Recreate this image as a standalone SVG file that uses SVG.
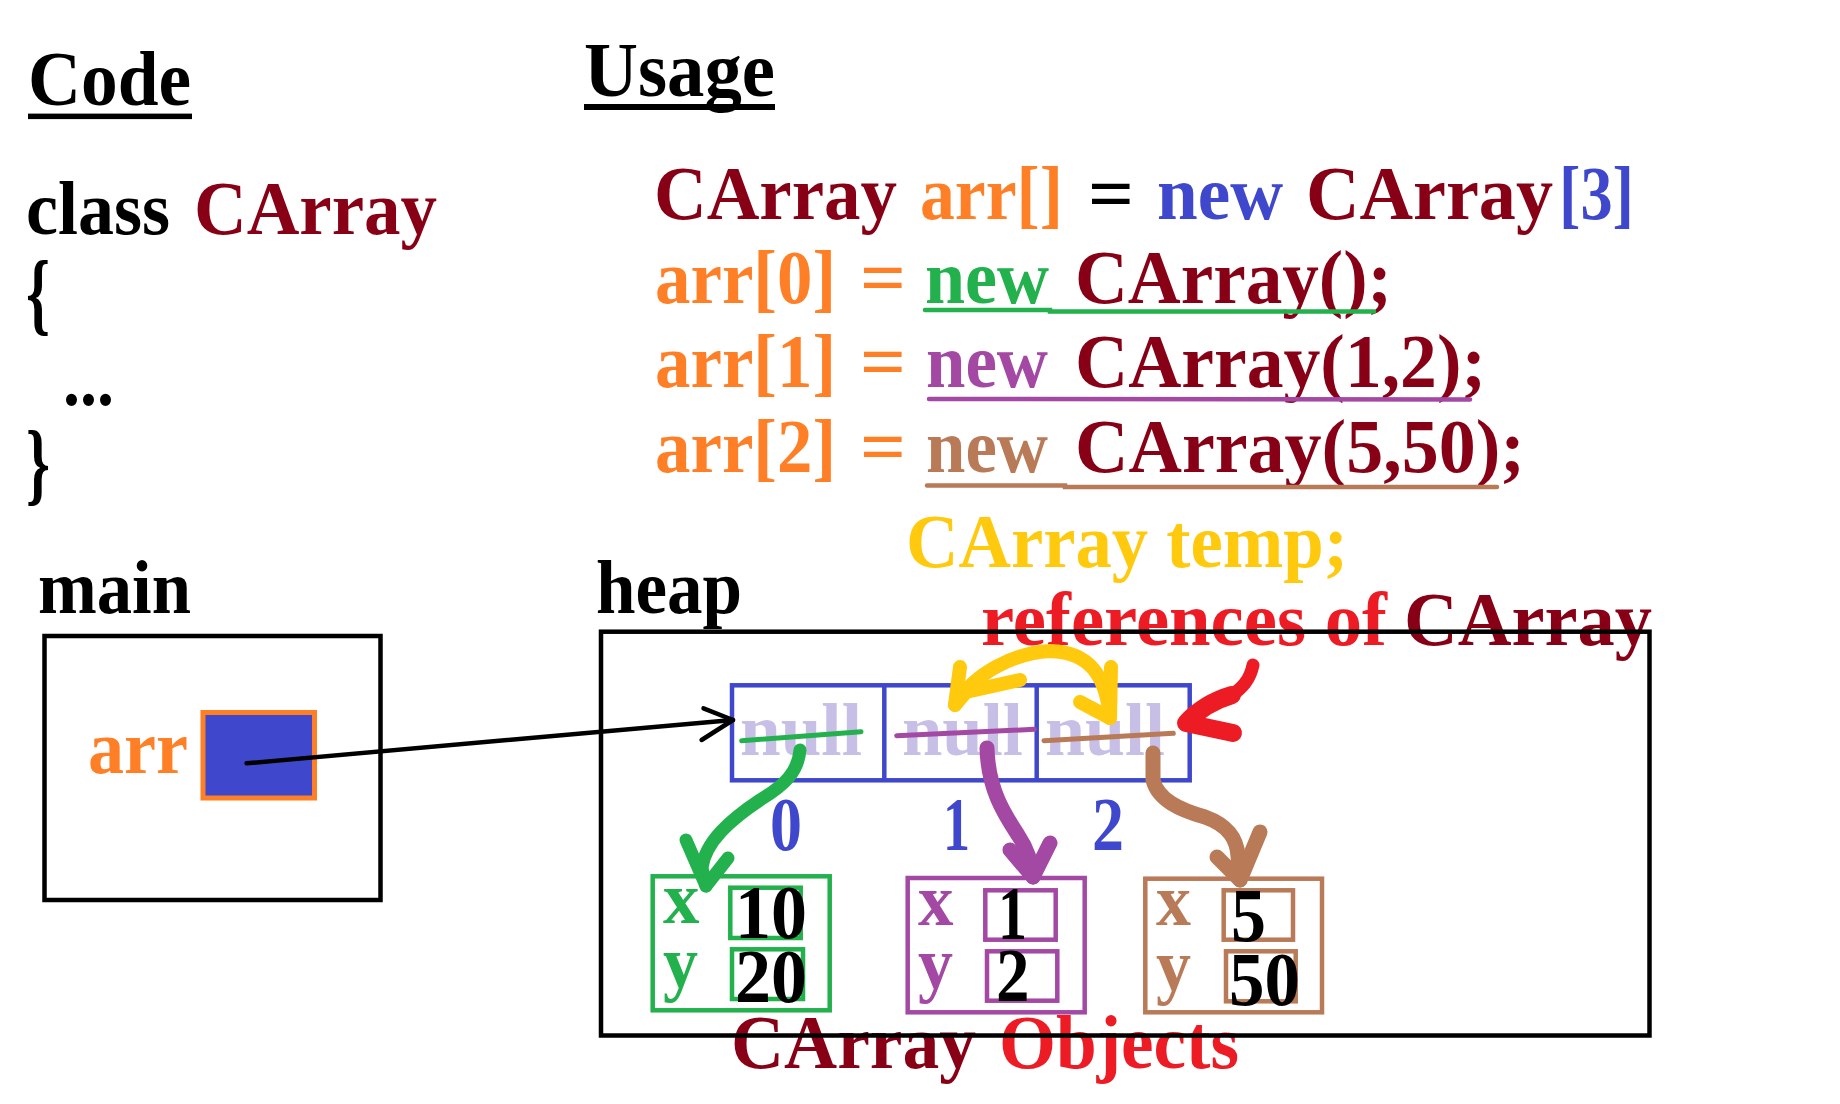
<svg xmlns="http://www.w3.org/2000/svg" width="1840" height="1104" viewBox="0 0 1840 1104">
<style>
  text { font-family: "Liberation Serif", "Times New Roman", serif; font-weight: bold; font-size: 76px; }
  .h { font-size: 78px; }
  .brace { font-size: 92px; }
  .k { fill: #000000; }
  .dr { fill: #880015; }
  .or { fill: #ff7f27; }
  .bl { fill: #3f48cc; }
  .gr { fill: #22b14c; }
  .pu { fill: #a349a4; }
  .br { fill: #b97a57; }
  .ye { fill: #ffc90e; }
  .rd { fill: #ed1c24; }
  .nl { fill: #c8bfe7; font-size: 73px; }
  .fld { font-size: 73px; }
  .box { fill: none; stroke-width: 4.5; }
  .hand { fill: none; stroke-linecap: round; stroke-linejoin: round; }
</style>
<rect width="1840" height="1104" fill="#ffffff"/>

<g id="code">
  <text class="h k" x="28" y="105" textLength="163" lengthAdjust="spacingAndGlyphs">Code</text>
  <rect x="28" y="113.6" width="164" height="5.5" fill="#000"/>
  <text class="k" x="26" y="234" textLength="144" lengthAdjust="spacingAndGlyphs">class</text>
  <text class="dr" x="194" y="234" textLength="243" lengthAdjust="spacingAndGlyphs">CArray</text>
  <text class="k brace" x="26" y="323" textLength="24" lengthAdjust="spacingAndGlyphs">{</text>
  <text class="k" x="63" y="405" textLength="51" lengthAdjust="spacingAndGlyphs">...</text>
  <text class="k brace" x="26" y="493" textLength="24" lengthAdjust="spacingAndGlyphs">}</text>
</g>

<g id="usage">
  <text class="h k" x="584" y="96.4" textLength="191" lengthAdjust="spacingAndGlyphs">Usage</text>
  <rect x="584" y="104" width="191" height="6" fill="#000"/>

  <text class="dr" x="654" y="219" textLength="243" lengthAdjust="spacingAndGlyphs">CArray</text>
  <text class="or" x="920" y="219" textLength="143" lengthAdjust="spacingAndGlyphs">arr[]</text>
  <text class="k" x="1088" y="219" textLength="46" lengthAdjust="spacingAndGlyphs">=</text>
  <text class="bl" x="1157" y="219" textLength="126" lengthAdjust="spacingAndGlyphs">new</text>
  <text class="dr" x="1306" y="219" textLength="247" lengthAdjust="spacingAndGlyphs">CArray</text>
  <text class="bl" x="1559" y="219" textLength="75" lengthAdjust="spacingAndGlyphs">[3]</text>

  <text class="or" x="655" y="303" textLength="181" lengthAdjust="spacingAndGlyphs">arr[0]</text>
  <text class="or" x="860" y="303" textLength="46" lengthAdjust="spacingAndGlyphs">=</text>
  <text class="gr" x="925" y="303" textLength="124" lengthAdjust="spacingAndGlyphs">new</text>
  <text class="dr" x="1075" y="303" textLength="317" lengthAdjust="spacingAndGlyphs">CArray();</text>
  <polyline points="925,310 1050,310 1050,311.5 1374,311.5" fill="none" stroke="#22b14c" stroke-width="4.5" stroke-linecap="round"/>

  <text class="or" x="655" y="387" textLength="181" lengthAdjust="spacingAndGlyphs">arr[1]</text>
  <text class="or" x="860" y="387" textLength="46" lengthAdjust="spacingAndGlyphs">=</text>
  <text class="pu" x="926" y="387" textLength="122" lengthAdjust="spacingAndGlyphs">new</text>
  <text class="dr" x="1075" y="387" textLength="411" lengthAdjust="spacingAndGlyphs">CArray(1,2);</text>
  <line x1="929" y1="399" x2="1470" y2="399.5" stroke="#a349a4" stroke-width="4.5" stroke-linecap="round"/>

  <text class="or" x="655" y="472" textLength="181" lengthAdjust="spacingAndGlyphs">arr[2]</text>
  <text class="or" x="860" y="472" textLength="46" lengthAdjust="spacingAndGlyphs">=</text>
  <text class="br" x="926" y="472" textLength="122" lengthAdjust="spacingAndGlyphs">new</text>
  <text class="dr" x="1075" y="472" textLength="450" lengthAdjust="spacingAndGlyphs">CArray(5,50);</text>
  <polyline points="927,485.5 1065,485.5 1065,487 1497,487" fill="none" stroke="#b97a57" stroke-width="4.5" stroke-linecap="round"/>
</g>

<g id="labels">
  <text class="ye" x="906" y="566.7" textLength="442" lengthAdjust="spacingAndGlyphs">CArray temp;</text>
  <text class="k" x="38" y="613" textLength="153" lengthAdjust="spacingAndGlyphs">main</text>
  <text class="k" x="596" y="613" textLength="146" lengthAdjust="spacingAndGlyphs">heap</text>
  <text class="rd" x="981" y="645" textLength="406" lengthAdjust="spacingAndGlyphs">references of</text>
  <text class="dr" x="1404" y="645" textLength="248" lengthAdjust="spacingAndGlyphs">CArray</text>
  <text class="dr" x="731" y="1068" textLength="245" lengthAdjust="spacingAndGlyphs">CArray</text>
  <text class="rd" x="999" y="1068" textLength="240" lengthAdjust="spacingAndGlyphs">Objects</text>
</g>

<g id="main">
  <rect class="box" x="44.5" y="636" width="336" height="264" stroke="#000"/>
  <text class="or" x="88" y="773" textLength="100" lengthAdjust="spacingAndGlyphs">arr</text>
  <rect x="203" y="712.5" width="111.5" height="85.5" fill="#3f48cc" stroke="#ff7f27" stroke-width="5"/>
</g>

<g id="heap">
  <rect class="box" x="601" y="631.7" width="1048.5" height="403.8" stroke="#000"/>
</g>

<g id="array">
  <text class="nl" x="740" y="755" textLength="122" lengthAdjust="spacingAndGlyphs">null</text>
  <text class="nl" x="902" y="755" textLength="121" lengthAdjust="spacingAndGlyphs">null</text>
  <text class="nl" x="1045" y="755" textLength="120" lengthAdjust="spacingAndGlyphs">null</text>
  <rect class="box" x="732" y="685.3" width="457.7" height="95" stroke="#3f48cc"/>
  <line x1="884.3" y1="685.3" x2="884.3" y2="780.3" stroke="#3f48cc" stroke-width="4.5"/>
  <line x1="1036.7" y1="685.3" x2="1036.7" y2="780.3" stroke="#3f48cc" stroke-width="4.5"/>
  <line x1="741.7" y1="740.7" x2="861" y2="731.7" stroke="#22b14c" stroke-width="5" stroke-linecap="round"/>
  <line x1="896.7" y1="735.7" x2="1034.3" y2="729.3" stroke="#a349a4" stroke-width="5" stroke-linecap="round"/>
  <line x1="1044" y1="740.7" x2="1173.3" y2="733.3" stroke="#b97a57" stroke-width="5" stroke-linecap="round"/>
  <text class="bl" x="770" y="850" textLength="32" lengthAdjust="spacingAndGlyphs">0</text>
  <text class="bl" x="943" y="850" textLength="27" lengthAdjust="spacingAndGlyphs">1</text>
  <text class="bl" x="1092" y="850" textLength="32" lengthAdjust="spacingAndGlyphs">2</text>
</g>

<g id="obj0">
  <rect class="box" x="652.7" y="876.3" width="177" height="134" stroke="#22b14c"/>
  <rect class="box" x="730.3" y="887.7" width="70.4" height="50.3" stroke="#22b14c"/>
  <rect class="box" x="732" y="949.3" width="71" height="49.7" stroke="#22b14c"/>
  <text class="gr fld" x="663" y="923.3" textLength="36.5" lengthAdjust="spacingAndGlyphs">x</text>
  <text class="gr fld" x="663" y="986.7" textLength="35" lengthAdjust="spacingAndGlyphs">y</text>
  <text class="k" x="735" y="938.3" textLength="72" lengthAdjust="spacingAndGlyphs">10</text>
  <text class="k" x="735" y="1001.7" textLength="72" lengthAdjust="spacingAndGlyphs">20</text>
</g>

<g id="obj1">
  <rect class="box" x="907.7" y="878" width="177" height="134.3" stroke="#a349a4"/>
  <rect class="box" x="985.3" y="890.3" width="70.4" height="49.4" stroke="#a349a4"/>
  <rect class="box" x="987" y="951.3" width="70.3" height="49.4" stroke="#a349a4"/>
  <text class="pu fld" x="918" y="925" textLength="35.5" lengthAdjust="spacingAndGlyphs">x</text>
  <text class="pu fld" x="918" y="988" textLength="35" lengthAdjust="spacingAndGlyphs">y</text>
  <text class="k" x="998" y="939" textLength="29" lengthAdjust="spacingAndGlyphs">1</text>
  <text class="k" x="996" y="1000.7" textLength="33.5" lengthAdjust="spacingAndGlyphs">2</text>
</g>

<g id="obj2">
  <rect class="box" x="1145.3" y="878.7" width="176.7" height="133.6" stroke="#b97a57"/>
  <rect class="box" x="1223.7" y="890.3" width="69.3" height="49.4" stroke="#b97a57"/>
  <rect class="box" x="1226" y="951.3" width="69.7" height="50" stroke="#b97a57"/>
  <text class="br fld" x="1156" y="925" textLength="35" lengthAdjust="spacingAndGlyphs">x</text>
  <text class="br fld" x="1156" y="990" textLength="35" lengthAdjust="spacingAndGlyphs">y</text>
  <text class="k" x="1231" y="941" textLength="35" lengthAdjust="spacingAndGlyphs">5</text>
  <text class="k" x="1229" y="1005" textLength="71" lengthAdjust="spacingAndGlyphs">50</text>
</g>

<g id="connectors">
  <line x1="246.6" y1="763.3" x2="733" y2="720" stroke="#000" stroke-width="4.5" stroke-linecap="round"/>
  <polyline points="703.5,708.3 733,720 701.6,740" fill="none" stroke="#000" stroke-width="4.5" stroke-linecap="round" stroke-linejoin="round"/>

  <path class="hand" stroke="#22b14c" stroke-width="13" d="M 800,750 C 798,772 785,785 760,800 C 730,820 705,842 702,868 L 706,886"/>
  <polyline class="hand" stroke="#22b14c" stroke-width="13" points="686,840 706,886 728,858"/>

  <path class="hand" stroke="#a349a4" stroke-width="15" d="M 987,748 C 988,790 1005,815 1018,835 C 1028,850 1032,864 1033,877"/>
  <polyline class="hand" stroke="#a349a4" stroke-width="15" points="1010,850 1033,877 1050,843"/>

  <path class="hand" stroke="#b97a57" stroke-width="15" d="M 1153,753 L 1153,780 C 1158,800 1180,810 1205,817 C 1230,826 1237,840 1238,856 L 1240,880"/>
  <polyline class="hand" stroke="#b97a57" stroke-width="15" points="1217,857 1240,880 1260,832"/>

  <path class="hand" stroke="#ffc90e" stroke-width="14" d="M 955,705 C 975,672 1015,653 1050,651 C 1090,652 1106,676 1110,718"/>
  <polyline class="hand" stroke="#ffc90e" stroke-width="14" points="960,667 955,705 966,692 1020,680"/>
  <polyline class="hand" stroke="#ffc90e" stroke-width="14" points="1111,667 1110,718 1080,702"/>

  <path class="hand" stroke="#ed1c24" stroke-width="13" d="M 1253,665 C 1250,680 1242,688 1232,695"/>
  <path class="hand" stroke="#ed1c24" stroke-width="18" d="M 1232,695 C 1215,700 1198,710 1186,723 L 1233,733"/>
</g>
</svg>
